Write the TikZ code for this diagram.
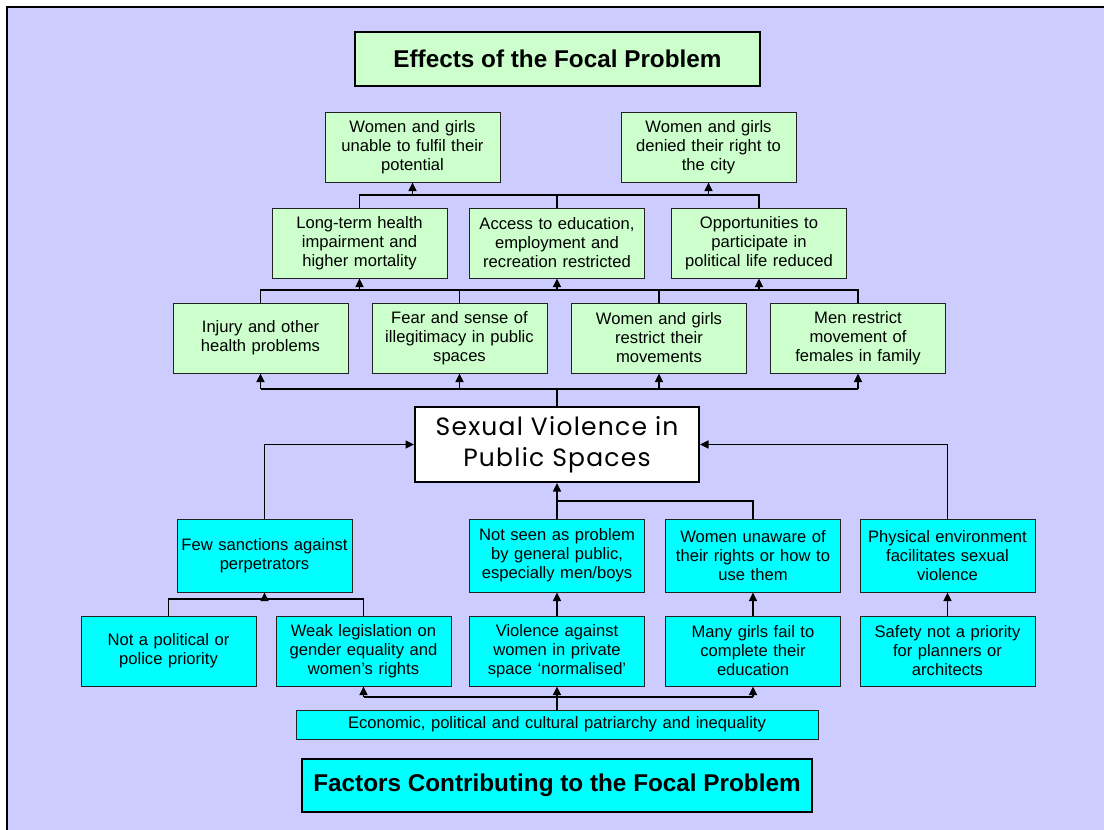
\documentclass[tikz,border=0pt]{standalone}
\usepackage{fontspec}
\setmainfont{Liberation Sans}
\newfontfamily\svfont{Poppins}[LetterSpace=5]
\usetikzlibrary{arrows.meta}
\definecolor{bglav}{HTML}{CCCCFF}
\definecolor{boxgreen}{HTML}{CCFFCC}
\definecolor{boxcyan}{HTML}{00FFFF}
\definecolor{edge}{HTML}{222222}
\tikzset{
  bx/.style={draw=edge, line width=1pt, minimum width=175pt, minimum height=70pt, inner sep=0pt,
    text width=172pt, align=center, font=\fontsize{16.6}{19}\selectfont},
  gb/.style={bx, fill=boxgreen},
  cb/.style={bx, fill=boxcyan, minimum height=73pt},
  db/.style={bx, fill=boxcyan},
  ttl/.style={draw=black, line width=2pt, inner sep=0pt, align=center, font=\fontsize{24.3}{28}\bfseries\selectfont},
  ln/.style={line width=1.3pt, black},
  arr/.style={ln, -{Triangle[length=8.5pt,width=8pt]}}
}
\begin{document}
\begin{tikzpicture}[x=1pt,y=-1pt]
\useasboundingbox (0,0) rectangle (1104,830);
\fill[white] (0,0) rectangle (1104,830);
\fill[bglav] (7,7) rectangle (1120,850);
\draw[line width=2pt] (7,7) rectangle (1120,850);

% titles
\node[ttl, fill=boxgreen, minimum width=405pt, minimum height=54pt] (title1) at (557.5,59) {Effects of the Focal Problem};
\node[ttl, fill=boxcyan, minimum width=510pt, minimum height=53pt] (title2) at (557,785.5) {Factors Contributing to the Focal Problem};

% effects
\node[gb] (t1) at (412.5,147) {Women and girls\\unable to fulfil their\\potential};
\node[gb] (t2) at (708.5,147) {Women and girls\\denied their right to\\the city};
\node[gb] (r2a) at (359.5,243) {Long-term health\\impairment and\\higher mortality};
\node[gb] (r2b) at (557,243) {Access to education,\\employment and\\recreation restricted};
\node[gb] (r2c) at (759,243) {Opportunities to\\participate in\\political life reduced};
\node[gb] (r3a) at (260.5,338) {Injury and other\\health problems};
\node[gb] (r3b) at (459.5,338) {Fear and sense of\\illegitimacy in public\\spaces};
\node[gb] (r3c) at (659,338) {Women and girls\\restrict their\\movements};
\node[gb] (r3d) at (858,338) {Men restrict\\movement of\\females in family};

% focal problem
\node[draw=black, line width=2pt, fill=white, minimum width=284pt, minimum height=75pt, inner sep=0pt, align=center,
  font=\svfont\fontsize{25}{31}\selectfont] (sv) at (557,444.5) {Sexual Violence in\\Public Spaces};

% causes
\node[cb] (c1) at (264.5,555.5) {Few sanctions against\\perpetrators};
\node[cb] (c2) at (557,555.5) {Not seen as problem\\by general public,\\especially men/boys};
\node[cb] (c3) at (753,555.5) {Women unaware of\\their rights or how to\\use them};
\node[cb] (c4) at (947.5,555.5) {Physical environment\\facilitates sexual\\violence};
\node[db] (d1) at (168.5,651) {Not a political or\\police priority};
\node[db] (d2) at (363.5,651) {Weak legislation on\\gender equality and\\women’s rights};
\node[db] (d3) at (557,651) {Violence against\\women in private\\space ‘normalised’};
\node[db] (d4) at (753,651) {Many girls fail to\\complete their\\education};
\node[db] (d5) at (947.5,651) {Safety not a priority\\for planners or\\architects};
\node[db, minimum width=522pt, minimum height=29pt, text width=515pt] (eco) at (557,724.5) {Economic, political and cultural patriarchy and inequality};

% level coordinates
\coordinate (L1) at (0,195);
\coordinate (L2) at (0,290);
\coordinate (L3) at (0,389);
\coordinate (L4) at (0,501);
\coordinate (L5) at (0,599);
\coordinate (L6) at (0,697);

% row2 -> top
\draw[ln] (r2a.north) -- (r2a.north|-L1) -- (r2c.north|-L1) -- (r2c.north);
\draw[ln] (r2b.north) -- (r2b.north|-L1);
\draw[arr] (t1.south|-L1) -- (t1.south);
\draw[arr] (t2.south|-L1) -- (t2.south);

% row3 -> row2
\draw[ln] (r3a.north) -- (r3a.north|-L2) -- (r3d.north|-L2) -- (r3d.north);
\draw[ln] (r3b.north) -- (r3b.north|-L2);
\draw[ln] (r3c.north) -- (r3c.north|-L2);
\draw[arr] (r2a.south|-L2) -- (r2a.south);
\draw[arr] (r2b.south|-L2) -- (r2b.south);
\draw[arr] (r2c.south|-L2) -- (r2c.south);

% focal -> row3
\draw[ln] (sv.north) -- (sv.north|-L3);
\draw[ln] (r3a.south|-L3) -- (r3d.south|-L3);
\draw[arr] (r3a.south|-L3) -- (r3a.south);
\draw[arr] (r3b.south|-L3) -- (r3b.south);
\draw[arr] (r3c.south|-L3) -- (r3c.south);
\draw[arr] (r3d.south|-L3) -- (r3d.south);

% causes -> focal
\draw[arr] (c1.north) |- (sv.west);
\draw[arr] (c4.north) |- (sv.east);
\draw[arr] (c2.north) -- (sv.south);
\draw[ln] (c3.north) -- (c3.north|-L4) -- (sv.south|-L4);

% lower causes
\draw[ln] (d1.north) -- (d1.north|-L5) -- (d2.north|-L5) -- (d2.north);
\draw[arr] (c1.south|-L5) -- (c1.south);
\draw[arr] (d3.north) -- (c2.south);
\draw[arr] (d4.north) -- (c3.south);
\draw[arr] (d5.north) -- (c4.south);

% root
\draw[arr] (eco.north) -- (d3.south);
\draw[ln] (d2.south|-L6) -- (d4.south|-L6);
\draw[arr] (d2.south|-L6) -- (d2.south);
\draw[arr] (d4.south|-L6) -- (d4.south);
\end{tikzpicture}
\end{document}
